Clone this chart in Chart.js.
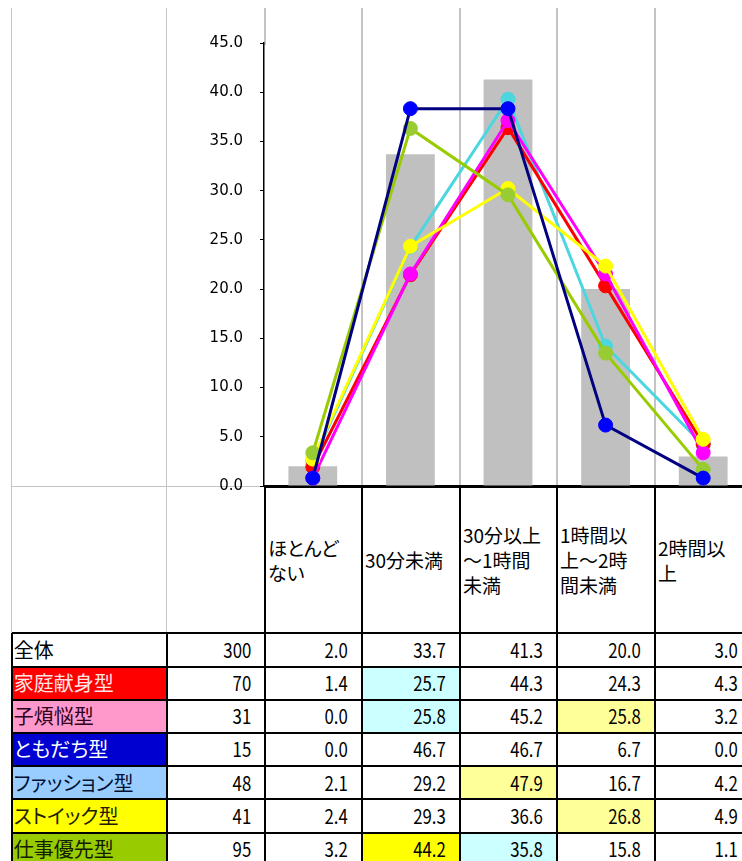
<!DOCTYPE html>
<html lang="ja">
<head>
<meta charset="utf-8">
<title>タイプ別 時間分布</title>
<script src="https://cdn.jsdelivr.net/npm/chart.js@4.4.1/dist/chart.umd.min.js"></script>
<style>
html, body { margin: 0; padding: 0; background: #fff; overflow: hidden; }
#sheet { position: relative; width: 742px; height: 861px; overflow: hidden; font-family: "Noto Sans CJK JP", sans-serif; color: #000; }
#chartBox { position: absolute; left: 0; top: 0; width: 800px; height: 512px; z-index: 2; }
.line { position: absolute; }
.cell { position: absolute; box-sizing: border-box; display: flex; align-items: center; white-space: nowrap; }
.head { font-size: 19px; line-height: 25px; white-space: pre-line; padding-left: 3px; font-feature-settings: "palt"; }
.name { font-size: 20px; line-height: 1; padding-left: 2px; font-feature-settings: "palt"; }
.num { justify-content: flex-end; padding-right: 14px; font-size: 20px; line-height: 1; }
.num span { display: inline-block; transform: scaleX(0.84); transform-origin: right center; }
</style>
</head>
<body>
<div id="sheet">
  <div id="chartBox"><canvas id="myChart" width="800" height="512"></canvas></div>
</div>
<script>
// categories (header row of the sheet)
var categories = ['ほとんど\nない', '30分未満', '30分以上\n～1時間\n未満', '1時間以\n上～2時\n間未満', '2時間以\n上'];

// whole sample: bars
var totalLabel = '全体';
var totalN = 300;
var totalValues = [2.0, 33.7, 41.3, 20.0, 3.0];

// types: lines
var groupNames = ['家庭献身型', '子煩悩型', 'ともだち型', 'ファッション型', 'ストイック型', '仕事優先型'];
var groupN = [70, 31, 15, 48, 41, 95];
var kateiValues = [1.4, 25.7, 44.3, 24.3, 4.3];
var kobonnoValues = [0.0, 25.8, 45.2, 25.8, 3.2];
var tomodachiValues = [0.0, 46.7, 46.7, 6.7, 0.0];
var fashionValues = [2.1, 29.2, 47.9, 16.7, 4.2];
var stoicValues = [2.4, 29.3, 36.6, 26.8, 4.9];
var shigotoValues = [3.2, 44.2, 35.8, 15.8, 1.1];

// left axis ticks, and the hidden right axis used by the lines
var yMin = 0, yMax = 45, yStep = 5;
var y2Min = -1, y2Max = 55;

var groupValues = [kateiValues, kobonnoValues, tomodachiValues, fashionValues, stoicValues, shigotoValues];

// styles per type: name cell fill/text, line colour, marker colour, draw order
var groupStyle = [
    { fill: '#ff0000', text: '#ffe4e4', line: '#ff0000', point: '#ff0000', order: 5 },
    { fill: '#ff99cc', text: '#300020', line: '#ff00ff', point: '#ff00ff', order: 4 },
    { fill: '#0000d0', text: '#ffffff', line: '#000080', point: '#0000ff', order: 1 },
    { fill: '#99ccff', text: '#001030', line: '#4cd6e0', point: '#4cd6e0', order: 6 },
    { fill: '#ffff00', text: '#202000', line: '#ffff00', point: '#ffff00', order: 3 },
    { fill: '#99cc00', text: '#102000', line: '#99cc00', point: '#99cc33', order: 2 }
];

// highlighted value cells [row, col, colour]
var marks = [
    [0, 1, '#ccffff'], [1, 1, '#ccffff'], [1, 3, '#ffff99'],
    [3, 2, '#ffff99'], [4, 3, '#ffff99'], [5, 1, '#ffff00'], [5, 2, '#ccffff']
];

// sheet geometry
var colX = [11.7, 166.7, 265, 362, 460, 557, 655, 752];
var headTop = 486.5, headBottom = 633.3, rowH = 33.2;

var sheet = document.getElementById('sheet');

function addDiv(cls, x, y, w, h, css, html) {
    var d = document.createElement('div');
    d.className = cls;
    d.style.left = x + 'px';
    d.style.top = y + 'px';
    d.style.width = w + 'px';
    d.style.height = h + 'px';
    for (var k in css) d.style[k] = css[k];
    if (html !== undefined) d.innerHTML = html;
    sheet.appendChild(d);
    return d;
}

function vline(x, y1, y2, color, w) {
    addDiv('line', x - w / 2, y1, w, y2 - y1, { background: color });
}
function hline(y, x1, x2, color, w) {
    addDiv('line', x1, y - w / 2, x2 - x1, w, { background: color });
}

// header row
for (var i = 0; i < categories.length; i++) {
    var c = addDiv('cell head', colX[i + 2], headTop, colX[i + 3] - colX[i + 2], headBottom - headTop, {});
    c.textContent = categories[i];
}

function fmt(v) { return v.toFixed(1); }

// data rows
var rows = [{ name: totalLabel, n: totalN, vals: totalValues, fill: '#fff', text: '#000' }];
for (var g = 0; g < groupNames.length; g++) {
    rows.push({ name: groupNames[g], n: groupN[g], vals: groupValues[g], fill: groupStyle[g].fill, text: groupStyle[g].text });
}
rows.forEach(function(r, ri) {
    var top = headBottom + ri * rowH;
    addDiv('cell name', colX[0], top, colX[1] - colX[0], rowH, { background: r.fill, color: r.text }, r.name);
    addDiv('cell num', colX[1], top, colX[2] - colX[1], rowH, {}, '<span>' + r.n + '</span>');
    r.vals.forEach(function(v, ci) {
        var bg = '#fff';
        marks.forEach(function(m) { if (m[0] === ri - 1 && m[1] === ci) bg = m[2]; });
        addDiv('cell num', colX[ci + 2], top, colX[ci + 3] - colX[ci + 2], rowH, { background: bg }, '<span>' + fmt(v) + '</span>');
    });
});

// sheet grid: light lines above the table, black lines in it
var gray = '#c4c4c4';
vline(colX[0], 8, headBottom, gray, 1.5);
vline(colX[1], 8, headBottom, gray, 1.5);
vline(colX[2], 8, 45, gray, 1.5);
for (var k = 3; k < 7; k++) vline(colX[k], 8, headTop, gray, 1.5);
hline(headTop, colX[0], colX[2], gray, 1.5);
hline(headTop, colX[2], 742, '#000', 2);
for (var k = 2; k < 7; k++) vline(colX[k], headTop, 861, '#000', 2);
vline(colX[0], headBottom, 861, '#000', 2);
vline(colX[1], headBottom, 861, '#000', 2);
for (var r = 0; r <= rows.length; r++) hline(headBottom + r * rowH, colX[0], 742, '#000', 2);

// chart
var datasets = [{
    type: 'bar',
    label: totalLabel,
    data: totalValues,
    backgroundColor: '#c0c0c0',
    borderWidth: 0,
    barPercentage: 0.5,
    categoryPercentage: 1,
    yAxisID: 'y',
    order: 10
}];
groupNames.forEach(function(name, g) {
    var s = groupStyle[g];
    datasets.push({
        type: 'line',
        label: name,
        data: groupValues[g],
        yAxisID: 'y2',
        borderColor: s.line,
        backgroundColor: s.point,
        pointBackgroundColor: s.point,
        pointBorderColor: s.point,
        pointRadius: 7,
        pointBorderWidth: 1,
        borderWidth: 3,
        tension: 0,
        order: s.order
    });
});

var ctx = document.getElementById('myChart').getContext('2d');
var myChart = new Chart(ctx, {
    type: 'bar',
    data: { labels: categories, datasets: datasets },
    options: {
        responsive: false,
        animation: false,
        layout: { padding: { top: 43, right: 48, bottom: 5, left: 0 } },
        plugins: { legend: { display: false }, tooltip: { enabled: false } },
        scales: {
            x: {
                ticks: { display: false },
                grid: { display: false },
                border: { display: true, color: '#000', width: 2 },
                afterFit: function(s) { s.height = 0; }
            },
            y: {
                min: yMin,
                max: yMax,
                ticks: {
                    stepSize: yStep,
                    padding: 17,
                    color: '#000',
                    font: { family: 'DejaVu Sans', size: 15 },
                    callback: function(v) { return v.toFixed(1); }
                },
                grid: { drawOnChartArea: false, tickLength: 4, color: '#000' },
                border: { color: '#000', width: 1.5 },
                afterFit: function(s) { s.width = 264; }
            },
            y2: { display: false, min: y2Min, max: y2Max }
        }
    }
});
</script>
</body>
</html>
